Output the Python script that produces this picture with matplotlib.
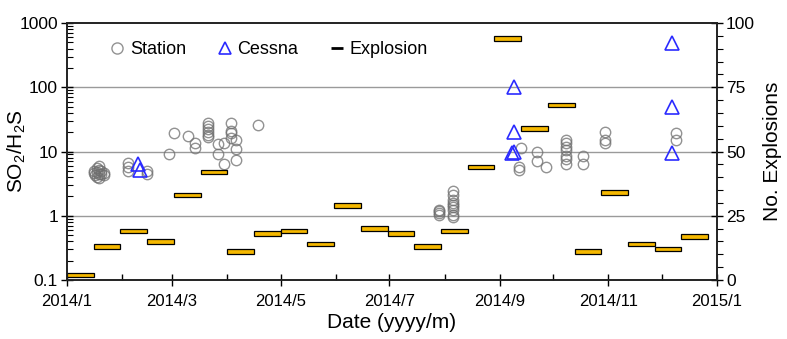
import matplotlib
matplotlib.use("Agg")
import matplotlib.pyplot as plt
import matplotlib.dates as mdates
from matplotlib.lines import Line2D
from matplotlib.ticker import FixedLocator, MultipleLocator, NullFormatter
import numpy as np
import datetime as dt

plt.rcParams['font.family'] = ['Liberation Sans', 'DejaVu Sans']

# ---- Data ----
station_dates = [
    "2014-01-16", "2014-01-16", "2014-01-17", "2014-01-18", "2014-01-18", "2014-01-18",
    "2014-01-19", "2014-01-19", "2014-01-19", "2014-01-19", "2014-01-20", "2014-01-20",
    "2014-01-22", "2014-01-22",
    "2014-02-04", "2014-02-04", "2014-02-04", "2014-02-15", "2014-02-15",
    "2014-02-27", "2014-03-02", "2014-03-10", "2014-03-14", "2014-03-14",
    "2014-03-21", "2014-03-21", "2014-03-21", "2014-03-21", "2014-03-21", "2014-03-21",
    "2014-03-27", "2014-03-27", "2014-03-30", "2014-03-30",
    "2014-04-03", "2014-04-03", "2014-04-03", "2014-04-03",
    "2014-04-06", "2014-04-06", "2014-04-06", "2014-04-18",
    "2014-07-29", "2014-07-29", "2014-07-29", "2014-07-29",
    "2014-08-06", "2014-08-06", "2014-08-06", "2014-08-06", "2014-08-06",
    "2014-08-06", "2014-08-06", "2014-08-06", "2014-08-06",
    "2014-09-12", "2014-09-12", "2014-09-13",
    "2014-09-22", "2014-09-22", "2014-09-27",
    "2014-10-08", "2014-10-08", "2014-10-08", "2014-10-08", "2014-10-08", "2014-10-08", "2014-10-08",
    "2014-10-18", "2014-10-18",
    "2014-10-30", "2014-10-30", "2014-10-30",
    "2014-12-09", "2014-12-09",
]
station_values = [
    4.6, 5.0, 4.3, 4.8, 5.5, 4.0,
    4.5, 5.2, 6.0, 3.9, 4.4, 5.0,
    4.7, 4.3,
    6.6, 5.8, 5.0, 4.4, 4.9,
    9.2, 19.3, 17.7, 11.5, 13.8,
    28, 25, 22, 20, 18, 17,
    13, 9.2, 6.4, 13.8,
    28, 21, 19.3, 16,
    15.2, 10.9, 7.4, 25.7,
    1.04, 1.12, 1.24, 1.18,
    2.45, 2.1, 1.78, 1.48, 1.24, 1.04, 0.96, 1.6, 1.35,
    5.2, 5.7, 11.3,
    9.7, 7.2, 5.7,
    15.2, 13.5, 11.7, 10.6, 8.6, 7.6, 6.4,
    8.6, 6.4,
    19.8, 15.2, 13.5,
    19.3, 15.2,
]

cessna_dates = ["2014-02-10", "2014-02-11",
                "2014-09-08", "2014-09-09", "2014-09-09", "2014-09-09",
                "2014-12-07", "2014-12-07", "2014-12-07"]
cessna_values = [6.4, 5.2,
                 9.5, 10, 20, 100,
                 485, 49, 9.4]

# Explosions per 15-day period starting 2014-01-01
explosion_start = "2014-01-01"
explosion_counts = [2, 13, 19, 15, 33, 42, 11, 18, 19, 14, 29, 20,
                    18, 13, 19, 44, 94, 59, 68, 11, 34, 14, 12, 17]
period_days = 15

x_tick_labels = ["2014/1", "2014/3", "2014/5", "2014/7", "2014/9", "2014/11", "2015/1"]

# ---- Figure ----
W, H = 787, 339
fig = plt.figure(figsize=(W / 100, H / 100), dpi=100)
ax = fig.add_axes([67 / W, 1 - 280 / H, (717 - 67) / W, (280 - 23) / H])
ax2 = ax.twinx()

sd = [mdates.datestr2num(s) for s in station_dates]
cd = [mdates.datestr2num(s) for s in cessna_dates]

ax.set_yscale('log')
ax.set_ylim(0.1, 1000)
for g in [1, 10, 100]:
    ax.axhline(g, color='#9a9a9a', lw=1.0, zorder=0)

ax.plot(sd, station_values, linestyle='none', marker='o', markersize=7.5,
        markerfacecolor='none', markeredgecolor='#6e6e6e', markeredgewidth=1.0,
        alpha=0.75, zorder=3)
ax.plot(cd, cessna_values, linestyle='none', marker='^', markersize=10.5,
        markerfacecolor='none', markeredgecolor='#2b2bff', markeredgewidth=1.2,
        zorder=4)

start = mdates.datestr2num(explosion_start)
bar_x = [start + i * period_days for i in range(len(explosion_counts))]
bh = 1.75
ax2.bar(bar_x, [bh] * len(explosion_counts), width=period_days,
        bottom=[c - bh / 2 for c in explosion_counts], align='edge',
        color='#f5b800', edgecolor='black', linewidth=0.9, zorder=2)
ax2.set_ylim(0, 100)

x0 = mdates.date2num(dt.date(2014, 1, 1))
x1 = mdates.date2num(dt.date(2015, 1, 1))
ax.set_xlim(x0, x1)
ax2.set_xlim(x0, x1)

major = [mdates.date2num(dt.date(2014 + (m // 12), m % 12 + 1, 1)) for m in range(0, 13, 2)]
minor = [mdates.date2num(dt.date(2014, m, 1)) for m in range(2, 13, 2)]
ax.xaxis.set_major_locator(FixedLocator(major))
ax.set_xticklabels(x_tick_labels)
ax.xaxis.set_minor_locator(FixedLocator(minor))
ax.xaxis.set_minor_formatter(NullFormatter())

ax.set_yticks([0.1, 1, 10, 100, 1000])
ax.set_yticklabels(["0.1", "1", "10", "100", "1000"])
ax.yaxis.set_minor_formatter(NullFormatter())

ax2.set_yticks([0, 25, 50, 75, 100])
ax2.yaxis.set_minor_locator(MultipleLocator(5))

ax.tick_params(axis='x', which='major', direction='inout', length=8, width=1, labelsize=12, pad=6)
ax.tick_params(axis='x', which='minor', direction='in', length=4, width=1)
ax.tick_params(axis='y', which='major', direction='inout', length=9, width=1, labelsize=12.5, pad=2)
ax.tick_params(axis='y', which='minor', direction='in', length=4, width=0.8)
ax2.tick_params(axis='y', which='major', direction='inout', length=9, width=1, labelsize=12.5, pad=2)
ax2.tick_params(axis='y', which='minor', direction='out', length=4, width=0.8)

for a in (ax, ax2):
    for s in a.spines.values():
        s.set_linewidth(1.2)
        s.set_color('#222222')

ax.set_xlabel("Date (yyyy/m)", fontsize=15, labelpad=3)
ax.set_ylabel(r"$\mathregular{SO_2/H_2S}$", fontsize=15)
ax.yaxis.set_label_coords(-0.06, 0.5)
ax2.set_ylabel("No. Explosions", fontsize=15, labelpad=6)

handles = [
    Line2D([], [], linestyle='none', marker='o', markersize=8, markerfacecolor='none',
           markeredgecolor='#6e6e6e', markeredgewidth=1.0, alpha=0.75),
    Line2D([], [], linestyle='none', marker='^', markersize=8, markerfacecolor='none',
           markeredgecolor='#2b2bff', markeredgewidth=1.2),
    Line2D([], [], linestyle='none', marker='_', markersize=9, markeredgecolor='black',
           markeredgewidth=2.0),
]
leg = ax2.legend(handles, ["Station", "Cessna", "Explosion"], ncol=3, frameon=False,
                 loc='upper left', bbox_to_anchor=(0.055, 0.958), fontsize=13,
                 handlelength=0.8, handletextpad=0.3, columnspacing=1.75, borderaxespad=0)

fig.savefig("out.png", dpi=100)
